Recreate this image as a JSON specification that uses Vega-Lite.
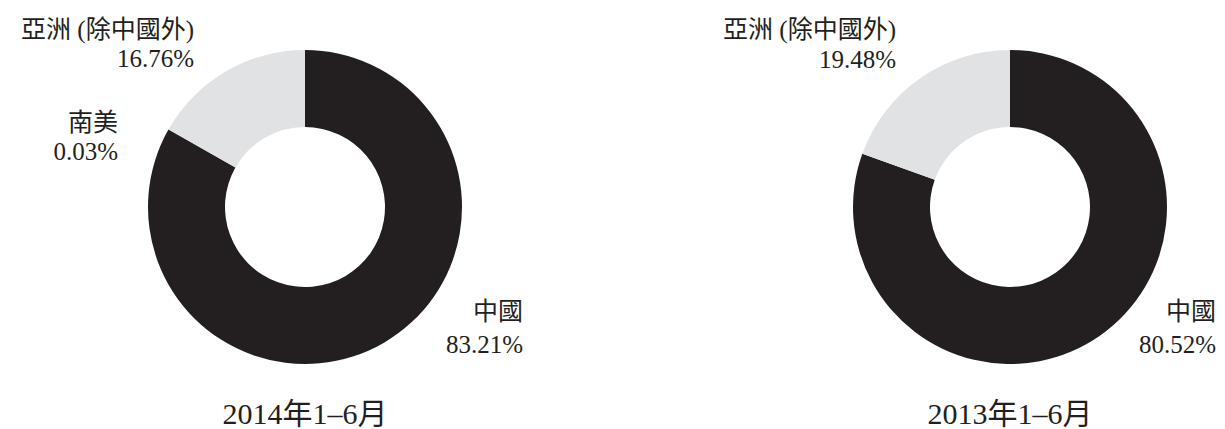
{
  "$schema": "https://vega.github.io/schema/vega-lite/v6.json",
  "padding": 0,
  "spacing": 185,
  "bounds": "flush",
  "background": "white",
  "config": {
    "view": {"stroke": null},
    "concat": {"spacing": 185},
    "text": {"font": "Liberation Serif, Noto Sans CJK TC", "fontSize": 25, "color": "#231f20", "lineBreak": "\n"}
  },
  "datasets": {
    "y2014": [
      {"region": "中國", "value": 83.21, "seq": 1, "label": "中國\n83.21%", "period": "2014年1–6月"},
      {"region": "南美", "value": 0.03, "seq": 2, "label": "南美\n0.03%", "period": "2014年1–6月"},
      {"region": "亞洲 (除中國外)", "value": 16.76, "seq": 3, "label": "亞洲 (除中國外)\n16.76%", "period": "2014年1–6月"}
    ],
    "y2013": [
      {"region": "中國", "value": 80.52, "seq": 1, "label": "中國\n80.52%", "period": "2013年1–6月"},
      {"region": "亞洲 (除中國外)", "value": 19.48, "seq": 3, "label": "亞洲 (除中國外)\n19.48%", "period": "2013年1–6月"}
    ]
  },
  "hconcat": [
    {
      "width": 610,
      "height": 414,
      "data": {"name": "y2014"},
      "layer": [
        {
          "mark": {"type": "arc", "outerRadius": 157, "innerRadius": 80},
          "encoding": {
            "theta": {"field": "value", "type": "quantitative", "stack": true},
            "order": {"field": "seq", "type": "quantitative"},
            "color": {"field": "region", "type": "nominal", "legend": null,
              "scale": {"domain": ["中國", "南美", "亞洲 (除中國外)"], "range": ["#231f20", "#939598", "#e1e2e4"]}}
          }
        },
        {
          "transform": [{"filter": "datum.region === '中國'"}],
          "mark": {"type": "text", "align": "right", "baseline": "alphabetic", "lineHeight": 33},
          "encoding": {"text": {"field": "label", "type": "nominal"}, "theta": {"value": 2.049}, "radius": {"value": 245.5}}
        },
        {
          "transform": [{"filter": "datum.region === '南美'"}],
          "mark": {"type": "text", "align": "right", "baseline": "alphabetic", "lineHeight": 29},
          "encoding": {"text": {"field": "label", "type": "nominal"}, "theta": {"value": -1.1847}, "radius": {"value": 201.9}}
        },
        {
          "transform": [{"filter": "datum.region === '亞洲 (除中國外)'"}],
          "mark": {"type": "text", "align": "right", "baseline": "alphabetic", "lineHeight": 29},
          "encoding": {"text": {"field": "label", "type": "nominal"}, "theta": {"value": -0.5812}, "radius": {"value": 202.2}}
        },
        {
          "transform": [{"filter": "datum.seq === 1"}],
          "mark": {"type": "text", "align": "center", "baseline": "alphabetic", "fontSize": 30},
          "encoding": {"text": {"field": "period", "type": "nominal"}, "theta": {"value": 3.14159}, "radius": {"value": 217}}
        }
      ]
    },
    {
      "width": 430,
      "height": 414,
      "data": {"name": "y2013"},
      "layer": [
        {
          "mark": {"type": "arc", "outerRadius": 157, "innerRadius": 80},
          "encoding": {
            "theta": {"field": "value", "type": "quantitative", "stack": true},
            "order": {"field": "seq", "type": "quantitative"},
            "color": {"field": "region", "type": "nominal", "legend": null,
              "scale": {"domain": ["中國", "南美", "亞洲 (除中國外)"], "range": ["#231f20", "#939598", "#e1e2e4"]}}
          }
        },
        {
          "transform": [{"filter": "datum.region === '中國'"}],
          "mark": {"type": "text", "align": "right", "baseline": "alphabetic", "lineHeight": 33},
          "encoding": {"text": {"field": "label", "type": "nominal"}, "theta": {"value": 2.0726}, "radius": {"value": 235.0}}
        },
        {
          "transform": [{"filter": "datum.region === '亞洲 (除中國外)'"}],
          "mark": {"type": "text", "align": "right", "baseline": "alphabetic", "lineHeight": 30},
          "encoding": {"text": {"field": "label", "type": "nominal"}, "theta": {"value": -0.5934}, "radius": {"value": 203.9}}
        },
        {
          "transform": [{"filter": "datum.seq === 1"}],
          "mark": {"type": "text", "align": "center", "baseline": "alphabetic", "fontSize": 30},
          "encoding": {"text": {"field": "period", "type": "nominal"}, "theta": {"value": 3.14159}, "radius": {"value": 217}}
        }
      ]
    }
  ]
}
